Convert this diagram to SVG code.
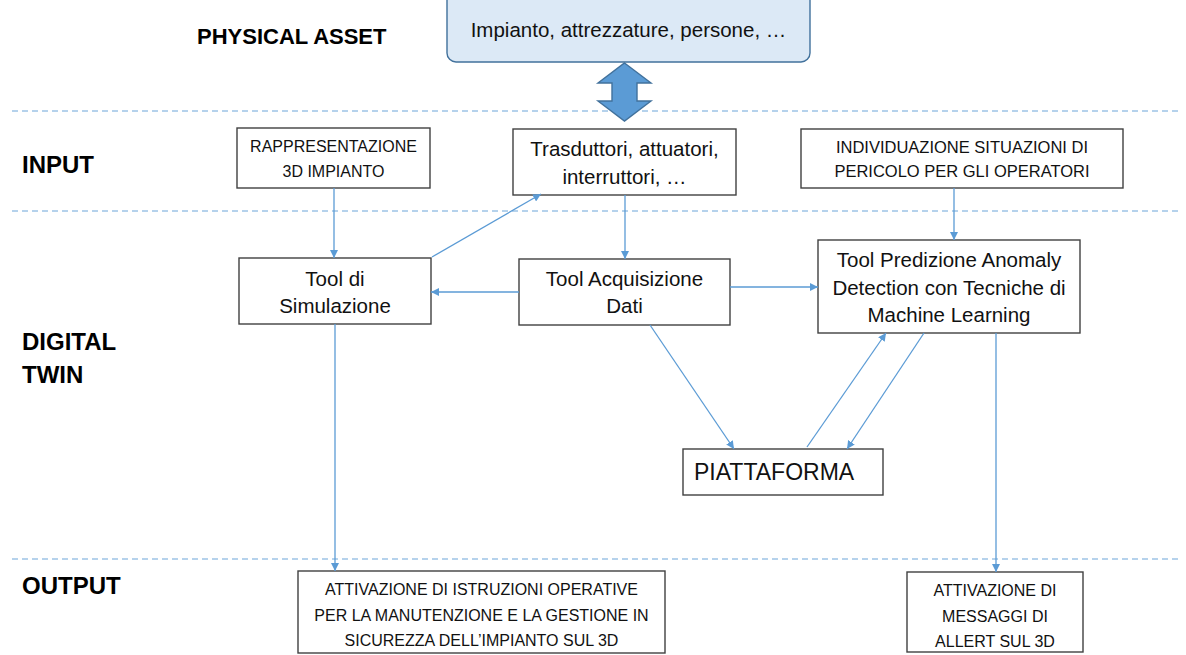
<svg xmlns="http://www.w3.org/2000/svg" width="1186" height="655" viewBox="0 0 1186 655">
<defs>
<marker id="ah" viewBox="0 0 10 10" refX="10" refY="5" markerWidth="8" markerHeight="8" markerUnits="userSpaceOnUse" orient="auto">
<path d="M0,0 L10,5 L0,10 z" fill="#5b9bd5"/>
</marker>
<style>
.bg{fill:#ffffff}
.sep{stroke:#9dc3e6;stroke-width:1.3;stroke-dasharray:6 4;fill:none}
.lbl{font-family:"Liberation Sans",Arial,sans-serif;font-weight:bold;font-size:24px;fill:#000}
.box{fill:#ffffff;stroke:#404040;stroke-width:1.4}
.pa{fill:#dce9f6;stroke:#41719c;stroke-width:1.4}
.t{font-family:"Liberation Sans",Arial,sans-serif;font-size:20.5px;fill:#111;text-anchor:middle}
.c{font-family:"Liberation Sans",Arial,sans-serif;font-size:16px;fill:#111;text-anchor:middle}
.big{font-family:"Liberation Sans",Arial,sans-serif;font-size:23px;fill:#111}
.con{stroke:#5b9bd5;stroke-width:1.3;fill:none;marker-end:url(#ah)}
.dbl{fill:#5b9bd5;stroke:#41719c;stroke-width:1.4}
</style>
</defs>
<rect class="bg" x="0" y="0" width="1186" height="655"/>

<g id="separators">
<line class="sep" x1="12" y1="111" x2="1182" y2="111"/>
<line class="sep" x1="12" y1="211" x2="1182" y2="211"/>
<line class="sep" x1="12" y1="559" x2="1182" y2="559"/>
</g>

<g id="row-labels">
<text class="lbl" x="197" y="44" style="font-size:22px">PHYSICAL ASSET</text>
<text class="lbl" x="22" y="173">INPUT</text>
<text class="lbl" x="22" y="350">DIGITAL</text>
<text class="lbl" x="22" y="383">TWIN</text>
<text class="lbl" x="22" y="594">OUTPUT</text>
</g>

<g id="physical-asset">
<rect class="pa" x="447" y="-10" width="363" height="72" rx="9"/>
<text class="t" x="628.5" y="37">Impianto, attrezzature, persone, …</text>
</g>

<g id="double-arrow">
<path class="dbl" d="M624.5,63 L651,83 L637,83 L637,101 L651,101 L624.5,121 L598,101 L612,101 L612,83 L598,83 z"/>
</g>

<g id="rappresentazione">
<rect class="box" x="237" y="128" width="193" height="60"/>
<text class="c" x="333.5" y="152">RAPPRESENTAZIONE</text>
<text class="c" x="333.5" y="177">3D IMPIANTO</text>
</g>

<g id="trasduttori">
<rect class="box" x="513" y="129" width="223" height="66"/>
<text class="t" x="624.5" y="156">Trasduttori, attuatori,</text>
<text class="t" x="624.5" y="184">interruttori, …</text>
</g>

<g id="individuazione">
<rect class="box" x="801" y="129" width="322" height="59"/>
<text class="c" x="962" y="153" style="font-size:16.5px">INDIVIDUAZIONE SITUAZIONI DI</text>
<text class="c" x="962" y="177" style="font-size:16.5px">PERICOLO PER GLI OPERATORI</text>
</g>

<g id="tool-simulazione">
<rect class="box" x="239" y="258" width="192" height="66"/>
<text class="t" x="335" y="286">Tool di</text>
<text class="t" x="335" y="313">Simulazione</text>
</g>

<g id="tool-acquisizione">
<rect class="box" x="519" y="259" width="211" height="66"/>
<text class="t" x="624.5" y="286">Tool Acquisizione</text>
<text class="t" x="624.5" y="313">Dati</text>
</g>

<g id="tool-predizione">
<rect class="box" x="818" y="240" width="262" height="93"/>
<text class="t" x="949" y="267">Tool Predizione Anomaly</text>
<text class="t" x="949" y="295">Detection con Tecniche di</text>
<text class="t" x="949" y="322">Machine Learning</text>
</g>

<g id="piattaforma">
<rect class="box" x="683" y="449" width="200" height="46"/>
<text class="big" x="694" y="480">PIATTAFORMA</text>
</g>

<g id="output-istruzioni">
<rect class="box" x="298" y="571" width="367" height="82"/>
<text class="c" x="481.5" y="595">ATTIVAZIONE DI ISTRUZIONI OPERATIVE</text>
<text class="c" x="481.5" y="621">PER LA MANUTENZIONE E LA GESTIONE IN</text>
<text class="c" x="481.5" y="646">SICUREZZA DELL’IMPIANTO SUL 3D</text>
</g>

<g id="output-allert">
<rect class="box" x="907" y="572" width="176" height="80"/>
<text class="c" x="995" y="596">ATTIVAZIONE DI</text>
<text class="c" x="995" y="622">MESSAGGI DI</text>
<text class="c" x="995" y="647">ALLERT SUL 3D</text>
</g>

<g id="connectors">
<line class="con" x1="334" y1="188" x2="334" y2="258"/>
<line class="con" x1="432" y1="257" x2="541" y2="194"/>
<line class="con" x1="625" y1="195" x2="625" y2="259"/>
<line class="con" x1="519" y1="292" x2="431" y2="292"/>
<line class="con" x1="730" y1="287" x2="818" y2="287"/>
<line class="con" x1="954" y1="188" x2="954" y2="240"/>
<line class="con" x1="650" y1="325" x2="734" y2="449"/>
<line class="con" x1="807" y1="447" x2="886" y2="333"/>
<line class="con" x1="924" y1="333" x2="847" y2="449"/>
<line class="con" x1="335" y1="324" x2="335" y2="571"/>
<line class="con" x1="996" y1="333" x2="996" y2="572"/>
</g>
</svg>
